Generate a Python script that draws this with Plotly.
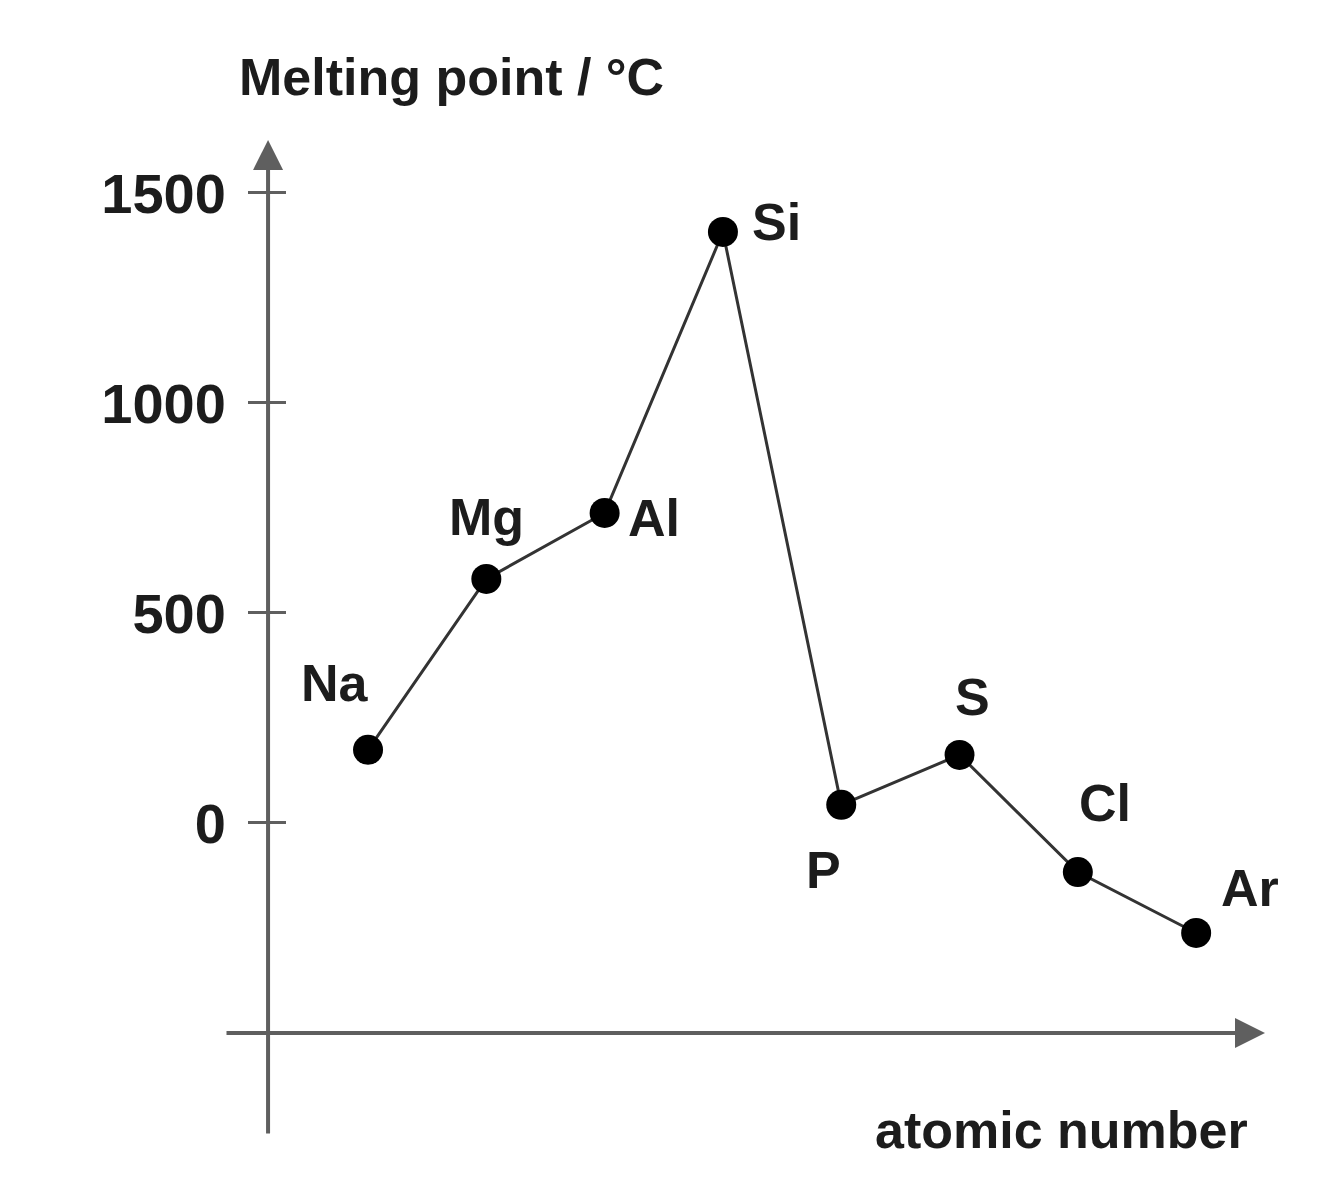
import plotly.graph_objects as go

# period 3 elements, melting point
elements = ["Na", "Mg", "Al", "Si", "P", "S", "Cl", "Ar"]
atomic_number = [11, 12, 13, 14, 15, 16, 17, 18]
melting_point = [174, 581, 738, 1407, 43, 162, -117, -262]
y_ticks = [0, 500, 1000, 1500]

# label offsets (px) so each symbol sits where the sketch puts it
label_dx = [-33, 0, 49, 54, -18, 13, 27, 54]
label_dy = [67, 62, -5, 10, -65, 58, 69, 45]

x_range = [9.791, 18.582]
y_range = [-743, 1626]
axis_x = 10.155      # where the vertical axis crosses
axis_y = -500        # where the horizontal axis crosses
ypos = (axis_x - x_range[0]) / (x_range[1] - x_range[0])

font_bold = dict(family="Liberation Sans, Arial, sans-serif", size=52, color="#1c1c1c", weight="bold")
tick_font = dict(font_bold, size=56)
axis_col = "#5f5f5f"

fig = go.Figure()
fig.add_trace(go.Scatter(
    x=atomic_number, y=melting_point, mode="lines+markers",
    line=dict(color="#333333", width=3),
    marker=dict(color="black", size=30),
    hoverinfo="skip", showlegend=False,
))
# dummy trace so the second (inside-tick) axis gets drawn
fig.add_trace(go.Scatter(x=[None], y=[None], yaxis="y2", showlegend=False))

ann = []
for el, xv, yv, dx, dy in zip(elements, atomic_number, melting_point, label_dx, label_dy):
    ann.append(dict(x=xv, y=yv, xref="x", yref="y", text=el, showarrow=False,
                    xshift=dx, yshift=dy, font=font_bold))

# axes drawn as arrows
ann.append(dict(x=axis_x, y=y_range[1], ax=axis_x, ay=y_range[0], xref="x", yref="y",
                axref="x", ayref="y", text="", showarrow=True, arrowhead=2,
                arrowsize=1.5, arrowwidth=4, arrowcolor=axis_col))
ann.append(dict(x=x_range[1], y=axis_y, ax=x_range[0], ay=axis_y, xref="x", yref="y",
                axref="x", ayref="y", text="", showarrow=True, arrowhead=2,
                arrowsize=1.5, arrowwidth=4, arrowcolor=axis_col))

ann.append(dict(x=0.0115, y=1.063, xref="paper", yref="paper", text="Melting point / °C",
                showarrow=False, xanchor="left", yanchor="middle", font=font_bold))
ann.append(dict(x=0.9856, y=0.005, xref="paper", yref="paper", text="atomic number",
                showarrow=False, xanchor="right", yanchor="middle", font=font_bold))

fig.update_layout(
    width=1332, height=1200,
    margin=dict(l=217, r=75, t=132, b=73),
    paper_bgcolor="white", plot_bgcolor="white",
    xaxis=dict(range=x_range, visible=False, fixedrange=True),
    yaxis=dict(range=y_range, anchor="free", position=ypos, showline=False,
               showgrid=False, zeroline=False, tickvals=y_ticks,
               ticks="outside", ticklen=20, tickwidth=3, tickcolor=axis_col,
               ticklabelstandoff=11, tickfont=tick_font),
    yaxis2=dict(range=y_range, overlaying="y", anchor="free", position=ypos,
                showline=False, showgrid=False, zeroline=False, tickvals=y_ticks,
                ticks="inside", ticklen=17, tickwidth=3, tickcolor=axis_col,
                showticklabels=False),
    annotations=ann,
)

fig.write_html("out.html")
